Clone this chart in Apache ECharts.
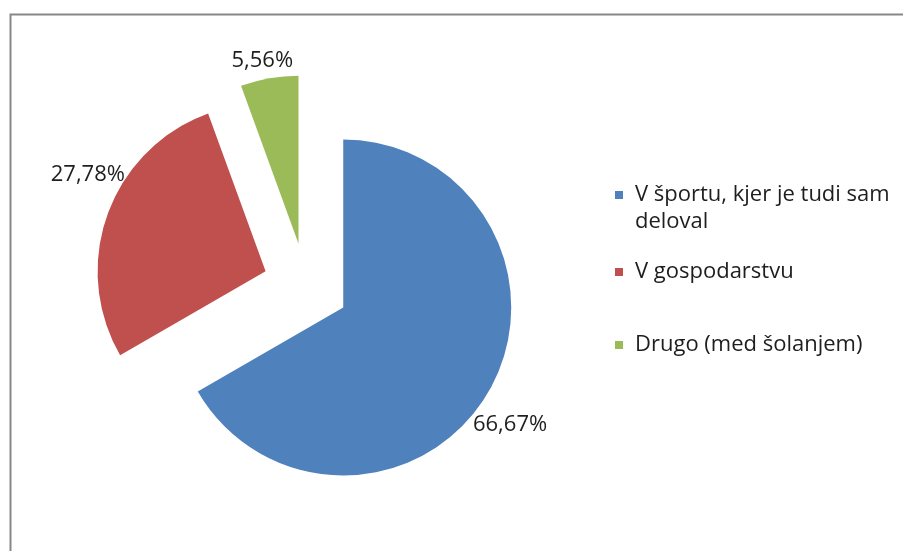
<!DOCTYPE html>
<html>
<head>
<meta charset="utf-8">
<script src="https://cdn.jsdelivr.net/npm/echarts@6/dist/echarts.min.js"></script>
<style>
  html, body { margin: 0; padding: 0; background: #ffffff; }
  #chart { width: 903px; height: 551px; }
</style>
</head>
<body>
<div id="chart"></div>
<script>
// Categories and their shares (percent)
const categories = ['V športu, kjer je tudi sam deloval', 'V gospodarstvu', 'Drugo (med šolanjem)'];
const shares = [66.67, 27.78, 5.56];
// Legend text, wrapped the way it is printed
const legendLines = [['V športu, kjer je tudi sam', 'deloval'], ['V gospodarstvu'], ['Drugo (med šolanjem)']];

const colors = ['#4F81BD', '#C0504D', '#9BBB59'];
const FONT = '"Open Sans", "Noto Sans", sans-serif';
const FONT_SIZE = 22;
const TEXT_COLOR = '#1e1e1e';
const LINE_H = 27;

const pieCenter = [306, 286];
const pieRadius = 168;
const explode = 43;
// small placement tweaks of the percentage labels
const labelNudges = [[-9, 16], [13, -27], [-1, 17]];
// vertical centre of each legend marker
const legendIconY = [195, 272, 345];

const fmtPct = v => v.toFixed(2).replace('.', ',') + '%';

const legends = categories.map((name, i) => {
  const lines = legendLines[i];
  // a blank first line keeps the marker level with the first text line
  const text = lines.length > 1 ? '\n' + lines.join('\n') : lines[0];
  const blockH = (lines.length > 1 ? lines.length + 1 : 1) * LINE_H;
  return {
    data: [name],
    orient: 'vertical',
    left: 615,
    top: legendIconY[i] - blockH / 2,
    padding: 0,
    icon: 'rect',
    itemWidth: 8,
    itemHeight: 8,
    selectedMode: false,
    formatter: () => text,
    textStyle: {
      fontFamily: FONT,
      fontSize: FONT_SIZE,
      color: TEXT_COLOR,
      lineHeight: LINE_H,
      padding: [0, 0, 0, 7]
    }
  };
});

const chart = echarts.init(document.getElementById('chart'), null, { renderer: 'canvas' });
chart.setOption({
  animation: false,
  backgroundColor: '#ffffff',
  color: colors,
  legend: legends,
  graphic: [{
    type: 'rect',
    silent: true,
    shape: { x: 10.5, y: 14.5, width: 1000, height: 700 },
    style: { fill: 'none', stroke: '#878787', lineWidth: 2 }
  }],
  series: [
    {
      type: 'pie',
      center: pieCenter,
      radius: pieRadius,
      startAngle: 90,
      clockwise: true,
      selectedMode: 'multiple',
      selectedOffset: explode,
      avoidLabelOverlap: false,
      label: { show: false },
      labelLine: { show: false },
      emphasis: { disabled: true },
      itemStyle: { borderWidth: 0 },
      data: categories.map((name, i) => ({ name, value: shares[i], selected: true }))
    },
    {
      // carries the percentage labels just outside each exploded slice
      type: 'pie',
      silent: true,
      center: pieCenter,
      radius: [pieRadius + 22, pieRadius + 42],
      startAngle: 90,
      clockwise: true,
      selectedMode: 'multiple',
      selectedOffset: explode,
      avoidLabelOverlap: false,
      emphasis: { disabled: true },
      itemStyle: { color: 'rgba(0,0,0,0)', borderWidth: 0 },
      labelLine: { show: false },
      label: {
        show: true,
        position: 'inside',
        fontFamily: FONT,
        fontSize: FONT_SIZE,
        color: TEXT_COLOR,
        formatter: p => fmtPct(p.value)
      },
      labelLayout: p => ({ dx: labelNudges[p.dataIndex][0], dy: labelNudges[p.dataIndex][1] }),
      data: categories.map((name, i) => ({ name, value: shares[i], selected: true }))
    }
  ]
});
</script>
</body>
</html>
